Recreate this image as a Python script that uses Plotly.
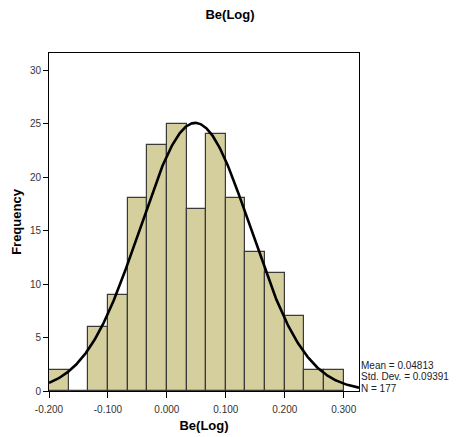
import numpy as np
import plotly.graph_objects as go

# Data
bin_start = -0.2
bin_width = 1 / 30
counts = [2, 0, 6, 9, 18, 23, 25, 17, 24, 18, 13, 11, 7, 2, 2]
mean = 0.04813
std = 0.09391
n = 177
x_ticks = [-0.2, -0.1, 0.0, 0.1, 0.2, 0.3]
x_tick_labels = ["-0.200", "-0.100", "0.000", "0.100", "0.200", "0.300"]
y_ticks = [0, 5, 10, 15, 20, 25, 30]
stats_lines = [f"Mean = {mean}", f"Std. Dev. = {std}", f"N = {n}"]

centers = [bin_start + bin_width * (i + 0.5) for i in range(len(counts))]

x_lo, x_hi = -0.2, 0.326
y_lo, y_hi = 0, 31.6

xs = np.linspace(x_lo, x_hi, 400)
ys = n * bin_width / (std * np.sqrt(2 * np.pi)) * np.exp(-0.5 * ((xs - mean) / std) ** 2)

fig = go.Figure()
fig.add_trace(go.Bar(
    x=centers, y=counts, width=bin_width,
    marker=dict(color="#D4CF9D", line=dict(color="#3a3a3a", width=1.2)),
    hoverinfo="skip",
))
fig.add_trace(go.Scatter(
    x=xs, y=ys, mode="lines",
    line=dict(color="black", width=2.6),
    hoverinfo="skip",
))

font = "Liberation Sans, Arial, sans-serif"
W, H = 454, 429
fig.update_layout(
    template="none",
    width=W, height=H,
    margin=dict(l=41, r=103, t=45, b=46, autoexpand=False),
    plot_bgcolor="white", paper_bgcolor="white",
    showlegend=False,
    bargap=0,
    font=dict(family=font, size=10, color="#222"),
    title=dict(text="<b>Be(Log)</b>", x=(230 - 8) / W, xanchor="center", y=1 - 6 / H, yanchor="middle",
               xref="container", yref="container",
               font=dict(family=font, size=13, color="black")),
    xaxis=dict(
        range=[x_lo, x_hi], tickvals=x_ticks, ticktext=x_tick_labels,
        ticks="outside", ticklen=6, tickcolor="black", tickwidth=1,
        ticklabelstandoff=3,
        showline=True, linecolor="black", linewidth=1, mirror=True,
        showgrid=False, zeroline=False, automargin=False,
        tickfont=dict(size=10, color="#333"),
        title=dict(text="<b>Be(Log)</b>", font=dict(size=13, color="black"), standoff=6),
    ),
    yaxis=dict(
        range=[y_lo, y_hi], tickvals=y_ticks,
        ticks="outside", ticklen=5, tickcolor="black", tickwidth=1,
        showline=True, linecolor="black", linewidth=1, mirror=True,
        showgrid=False, zeroline=False, automargin=False,
        tickfont=dict(size=10, color="#333"),
        title=dict(text="<b>Frequency</b>", font=dict(size=13, color="black"), standoff=5),
    ),
)

plot_h = H - 45 - 46
for i, line in enumerate(stats_lines):
    offset_px = 26 - 11.5 * i
    fig.add_annotation(
        xref="paper", yref="paper", x=1.002, y=offset_px / plot_h,
        xanchor="left", yanchor="middle", align="left", showarrow=False,
        text=line, borderpad=0,
        font=dict(size=10, color="#222", family=font),
    )

fig.write_html("out.html")
